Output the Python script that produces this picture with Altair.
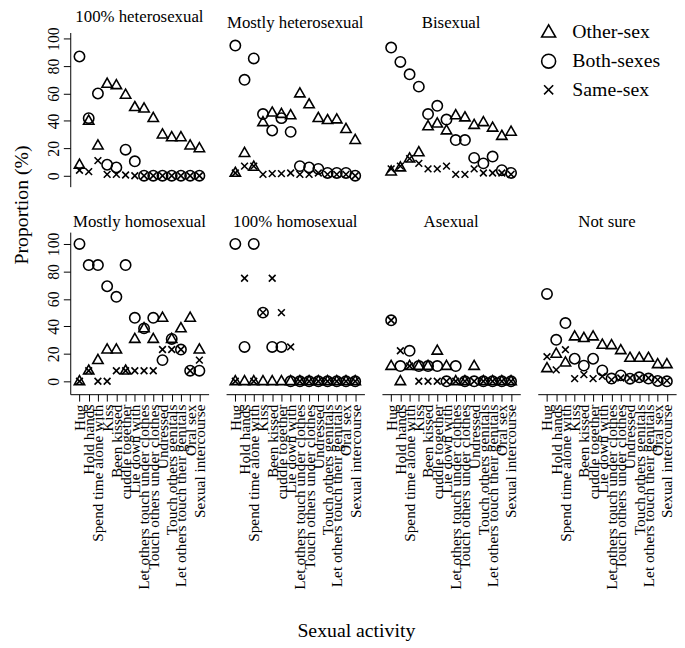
import altair as alt
import pandas as pd

activities = ["Hug", "Hold hands", "Spend time alone with", "Kiss", "Been kissed",
              "cuddle together", "Lie down with", "Let others touch under clothes",
              "Touch others under clothes", "Undressed", "Touch others genitals",
              "Let others touch their genitals", "Oral sex", "Sexual intercourse"]
series = ["Other-sex", "Both-sexes", "Same-sex"]
groups = ["100% heterosexual", "Mostly heterosexual", "Bisexual",
          "Mostly homosexual", "100% homosexual", "Asexual", "Not sure"]

het100_other = [8, 40, 22, 67, 66, 59, 50, 49, 42, 30, 28, 28, 22, 20]
het100_both = [87, 42, 60, 8, 6, 19, 10.5, 0, 0, 0, 0, 0, 0, 0]
het100_same = [4, 3, 11, 1, 1, 0.5, 0, 0, 0, 0, 0, 0, 0, 0]

mhet_other = [2, 16.5, 6.5, 39, 46, 45, 44, 60, 52, 42, 40.5, 41, 34, 26]
mhet_both = [95, 70, 85.6, 45, 33, 42, 32, 7, 6, 5, 2, 2, 2, 0]
mhet_same = [2, 7, 7, 1, 1.5, 1.5, 2, 1, 1, 2, 1, 1, 1, 0]

bi_other = [3, 6, 12.5, 17, 36, 38, 33, 44, 42.5, 37, 39, 35, 29, 32]
bi_both = [93.5, 83, 74, 65, 45, 51, 41, 26, 26, 13, 9, 14, 4, 2]
bi_same = [5, 7, 12.5, 9, 5, 5, 7, 1, 1, 5, 2, 2, 2, 1]

mhom_other = [0, 7.7, 15.4, 23.1, 23.1, 7.7, 30.8, 38.5, 30.8, 46.2, 30.8, 38.5, 46.2, 23.1]
mhom_both = [100, 84.6, 84.6, 69.2, 61.5, 84.6, 46.2, 38.5, 46.2, 15.4, 30.8, 23.1, 7.7, 7.7]
mhom_same = [0, 7.7, 0, 0, 7.7, 7.7, 7.7, 7.7, 7.7, 23.1, 23.1, 23.1, 7.7, 15.4]

hom100_other = [0, 0, 0, 0, 0, 0, 0, 0, 0, 0, 0, 0, 0, 0]
hom100_both = [100, 25, 100, 50, 25, 25, 0, 0, 0, 0, 0, 0, 0, 0]
hom100_same = [0, 75, 0, 50, 75, 50, 25, 0, 0, 0, 0, 0, 0, 0]

asex_other = [11.1, 0, 11.1, 11.1, 11.1, 22.2, 11.1, 0, 0, 11.1, 0, 0, 0, 0]
asex_both = [44.4, 11.1, 22.2, 11.1, 11.1, 11.1, 0, 11.1, 0, 0, 0, 0, 0, 0]
asex_same = [44.4, 22.2, 11.1, 0, 0, 0, 0, 0, 0, 0, 0, 0, 0, 0]

ns_other = [9.5, 20, 13.6, 32.6, 31.4, 32.6, 26.5, 26.2, 22.6, 17, 17, 17, 12.4, 12.4]
ns_both = [63.6, 30.2, 42.4, 16.4, 11.4, 16.4, 7.9, 2, 4.3, 1.9, 2.9, 2, 0.2, 0]
ns_same = [17.9, 8.3, 23, 1.9, 4.8, 1.9, 3.6, 1, 2.4, 2.4, 2.4, 2.4, 1, 0.5]

table = {
    "100% heterosexual": (het100_other, het100_both, het100_same),
    "Mostly heterosexual": (mhet_other, mhet_both, mhet_same),
    "Bisexual": (bi_other, bi_both, bi_same),
    "Mostly homosexual": (mhom_other, mhom_both, mhom_same),
    "100% homosexual": (hom100_other, hom100_both, hom100_same),
    "Asexual": (asex_other, asex_both, asex_same),
    "Not sure": (ns_other, ns_both, ns_same),
}

recs = []
for g in groups:
    for s, vals in zip(series, table[g]):
        for a, v in zip(activities, vals):
            recs.append({"group": g, "series": s, "activity": a, "value": v})
df = pd.DataFrame(recs)
legend_df = pd.DataFrame({"series": series})

FONT = "Liberation Serif"
TRI = "M0,-1.1L1,0.65L-1,0.65Z"
CROSS = "M-0.65,-0.65L0.65,0.65M-0.65,0.65L0.65,-0.65"
shape_scale = alt.Scale(domain=series, range=[TRI, "circle", CROSS])

PANEL_W = 140
TOP_H = 156
BOT_H = 164
TOP_DOM = [-8, 104.5]
BOT_DOM = [-9.4, 108.6]


def y_axis(with_title):
    kw = dict(values=[0, 20, 40, 60, 80, 100], labelAngle=270, labelAlign="center",
              labelBaseline="bottom", labelFontSize=16, labelPadding=2, labelColor="black",
              tickSize=7, tickColor="black", domainColor="black", grid=False)
    if with_title:
        kw.update(title="Proportion (%)", titleX=-49, titleY=174, titleAngle=270,
                  titleAlign="center", titleBaseline="middle", titleFontSize=20,
                  titleFontWeight="normal", titleColor="black")
    else:
        kw.update(title=None)
    return alt.Axis(**kw)


def x_axis(with_title):
    kw = dict(labelAngle=270, labelAlign="right", labelBaseline="middle", labelFontSize=15.5,
              labelPadding=3, labelColor="black", labelOverlap=False, labelLimit=400,
              tickSize=7, tickColor="black", domainColor="black", grid=False)
    if with_title:
        kw.update(title="Sexual activity", titleX=289, titleY=239, titleAngle=0,
                  titleAlign="center", titleBaseline="middle", titleFontSize=20,
                  titleFontWeight="normal", titleColor="black")
    else:
        kw.update(title=None)
    return alt.Axis(**kw)


def panel(g, h, dom, show_x, show_y, x_title=False, y_title=False):
    return alt.Chart(df).transform_filter(alt.datum.group == g).mark_point(
        filled=False, color="black", strokeWidth=1.6, size=110, opacity=1
    ).encode(
        x=alt.X("activity:N", sort=activities,
                scale=alt.Scale(type="point", padding=1.36),
                axis=x_axis(x_title) if show_x else None),
        y=alt.Y("value:Q", scale=alt.Scale(domain=dom, nice=False, zero=False),
                axis=y_axis(y_title) if show_y else None),
        shape=alt.Shape("series:N", scale=shape_scale, legend=None),
    ).properties(
        width=PANEL_W, height=h,
        title=alt.TitleParams(g, fontSize=17, fontWeight="normal", anchor="middle",
                              baseline="alphabetic", offset=-12, color="black", font=FONT),
    )


leg_y = alt.Y("series:N", sort=series,
              scale=alt.Scale(type="point", domain=series, padding=0), axis=None)
leg_pts = alt.Chart(legend_df).mark_point(
    filled=False, color="black", strokeWidth=1.6, size=200, opacity=1
).encode(x=alt.value(11), y=leg_y,
         shape=alt.Shape("series:N", scale=shape_scale, legend=None))
leg_txt = alt.Chart(legend_df).mark_text(
    align="left", baseline="middle", fontSize=20, font=FONT, color="black"
).encode(x=alt.value(35), y=leg_y, text="series:N")
legend_panel = alt.layer(leg_pts, leg_txt).properties(width=120, height=58)

chart = alt.concat(
    panel(groups[0], TOP_H, TOP_DOM, False, True, y_title=True),
    panel(groups[1], TOP_H, TOP_DOM, False, False),
    panel(groups[2], TOP_H, TOP_DOM, False, False),
    legend_panel,
    panel(groups[3], BOT_H, BOT_DOM, True, True, x_title=True),
    panel(groups[4], BOT_H, BOT_DOM, True, False),
    panel(groups[5], BOT_H, BOT_DOM, True, False),
    panel(groups[6], BOT_H, BOT_DOM, True, False),
    columns=4, spacing={"row": 46, "column": 17.7}, bounds="flush",
).properties(
    padding={"left": 4, "top": -4, "right": 0, "bottom": 0}
).configure(font=FONT).configure_view(strokeWidth=0)

chart.save("out.html", embed_options={"renderer": "svg", "actions": False})
